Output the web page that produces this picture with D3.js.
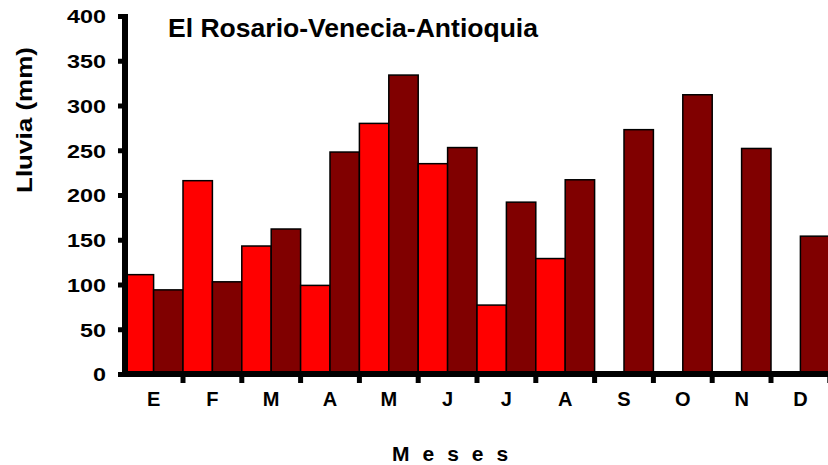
<!DOCTYPE html>
<html><head><meta charset="utf-8">
<script src="https://cdn.jsdelivr.net/npm/d3@7"></script>
<style>html,body{margin:0;padding:0;background:#fff;}svg{display:block;}</style>
</head><body>
<svg id="c" width="828" height="465"></svg>
<script>
const months = ["E","F","M","A","M","J","J","A","S","O","N","D"];
const seriesRed = [111,216,143,99,280,235,77,129,null,null,null,null];
const seriesDark = [94,103,162,248,334,253,192,217,273,312,252,154];
const yTicks = [0,50,100,150,200,250,300,350,400];
const title = "El Rosario-Venecia-Antioquia";
const yLabel = "Lluvia (mm)";
const xLabel = "Meses";

const svg = d3.select("#c");
const font = "'Liberation Sans', Arial, sans-serif";
const x = d3.scaleBand().domain(d3.range(months.length)).range([124.2, 829.8]).padding(0);
const xs = d3.scaleBand().domain(["r","d"]).range([0, x.bandwidth()]).padding(0);
const y = d3.scaleLinear().domain([0,400]).range([374,16]);

const data = [];
months.forEach((m,i)=>{
  if (seriesRed[i]!=null) data.push({i, s:"r", v:seriesRed[i]});
  if (seriesDark[i]!=null) data.push({i, s:"d", v:seriesDark[i]});
});
svg.append("g").selectAll("rect").data(data).join("rect")
  .attr("x", d=>x(d.i)+xs(d.s))
  .attr("y", d=>y(d.v))
  .attr("width", xs.bandwidth())
  .attr("height", d=>y(0)-y(d.v))
  .attr("fill", d=>d.s==="r"?"#FF0000":"#800000")
  .attr("stroke","#000").attr("stroke-width",1.5);

// Y axis
const ya = svg.append("g").attr("transform","translate(125,0)")
  .call(d3.axisLeft(y).tickValues(yTicks).tickSize(7).tickSizeOuter(0).tickPadding(12));
ya.select(".domain").attr("stroke","#000").attr("stroke-width",6).attr("d","M0,14V377");
ya.selectAll(".tick line").attr("stroke","#000").attr("stroke-width",5);
ya.selectAll(".tick text").attr("font-family",font).attr("font-weight","bold")
  .attr("font-size",19).attr("fill","#000").attr("dy","0.36em")
  .attr("textLength", d=>String(d).length*13).attr("lengthAdjust","spacingAndGlyphs");

// X axis
const xa = svg.append("g").attr("transform","translate(0,374)")
  .call(d3.axisBottom(x).tickSize(0).tickFormat(i=>months[i]).tickPadding(18));
xa.select(".domain").attr("stroke","#000").attr("stroke-width",6).attr("d","M122,0H830");
xa.selectAll(".tick text").attr("font-family",font).attr("font-weight","bold")
  .attr("font-size",20).attr("fill","#000");
// boundary ticks
svg.append("g").selectAll("line").data(d3.range(1, months.length+1)).join("line")
  .attr("x1", i=>x.range()[0] + i*x.step()).attr("x2", i=>x.range()[0] + i*x.step())
  .attr("y1",374).attr("y2",383).attr("stroke","#000").attr("stroke-width",5);

// Title
svg.append("text").attr("x",168).attr("y",37).attr("font-family",font).attr("font-weight","bold")
  .attr("font-size",25).attr("fill","#000").attr("textLength",370).attr("lengthAdjust","spacingAndGlyphs")
  .text(title);
// Y label
svg.append("text").attr("transform","translate(32,120) rotate(-90)").attr("text-anchor","middle")
  .attr("font-family",font).attr("font-weight","bold").attr("font-size",22).attr("fill","#000")
  .attr("textLength",146).attr("lengthAdjust","spacingAndGlyphs").text(yLabel);
// X label
svg.append("text").attr("x",392).attr("y",461).attr("font-family",font).attr("font-weight","bold")
  .attr("font-size",21).attr("fill","#000").attr("letter-spacing","13px").text(xLabel);
</script>
</body></html>
